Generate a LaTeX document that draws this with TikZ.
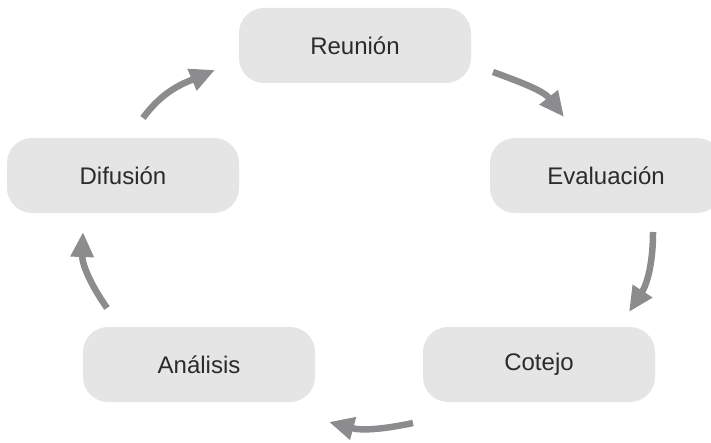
\documentclass[tikz,border=0pt]{standalone}
\usepackage{fontspec}
\setmainfont{Liberation Sans}
\usepackage{tikz}
\usepackage{xcolor}
\usetikzlibrary{positioning,arrows.meta}
\definecolor{boxgray}{HTML}{E5E5E6}
\definecolor{arrowgray}{HTML}{8C8C8E}
\definecolor{textgray}{HTML}{2B2B2B}

\begin{document}
\begin{tikzpicture}[x=1pt,y=1pt,
  stage/.style={rectangle, rounded corners=25pt, fill=boxgray, text=textgray,
    minimum width=232pt, minimum height=75pt, font=\fontsize{24}{28}\selectfont},
  flow/.style={draw=arrowgray, line width=6.5pt, -{Triangle[length=25pt,width=22pt]}}]
  \useasboundingbox (0,0) rectangle (711,442);

  \node[stage] (reunion) at (355,396.5) {Reunión};
  \node[stage] (difusion) at (123,266.5) {Difusión};
  \node[stage] (evaluacion) at (606,266.5) {Evaluación};
  \node[stage] (analisis) at (199,77.5) {Análisis};
  \node[stage] (cotejo) at (539,77.5) {Cotejo};

  % arrow ends
  \coordinate (d1) at (143,324);
  \coordinate (r0) at (215,372);
  \coordinate (r1) at (493,370);
  \coordinate (e0) at (564,325);
  \coordinate (e1) at (653,210);
  \coordinate (c0) at (629,130);
  \coordinate (c1) at (413,19);
  \coordinate (a0) at (329,20);
  \coordinate (a1) at (107,134);
  \coordinate (d0) at (83,210);

\draw[ flow ]  (d1) to [out=54, in=203] (r0);
\draw[ flow ]  (r1) to [out=-20, in=128] (e0);
\draw[ flow ]  (e1) to [out=-90, in=57] (c0);
\draw[ flow ]  (c1) to [out=192, in=345] (a0);
\draw[ flow ]  (a1) to [out=125, in=268] (d0);

\end{tikzpicture}
\end{document}
